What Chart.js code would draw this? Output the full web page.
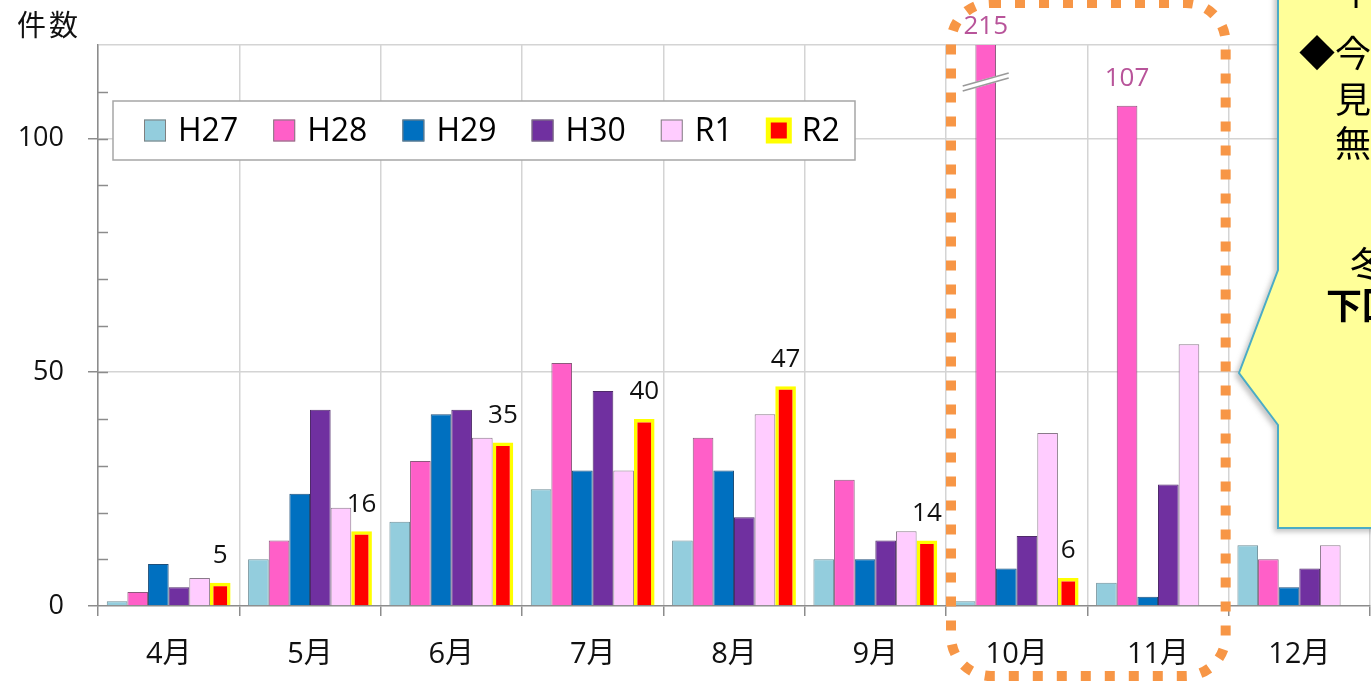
<!DOCTYPE html>
<html lang="ja">
<head>
<meta charset="utf-8">
<title>件数</title>
<script src="https://cdn.jsdelivr.net/npm/chart.js@4"></script>
<style>
  html, body { margin: 0; padding: 0; background: #fff; }
  #wrap { position: relative; width: 1371px; height: 685px; overflow: hidden; }
  #chart { position: absolute; left: 0; top: 0; }
  #callout { position: absolute; left: 0; top: 0; }
  .note { position: absolute; font-family: "Noto Sans CJK JP"; font-size: 36px; line-height: 36px; color: #000; white-space: nowrap; }
</style>
</head>
<body>
<div id="wrap">
  <canvas id="chart" width="1371" height="685"></canvas>
  <svg id="callout" width="1371" height="685">
    <defs>
      <filter id="shadow" x="-20%" y="-20%" width="140%" height="140%">
        <feDropShadow dx="-3" dy="3" stdDeviation="2.5" flood-color="#808080" flood-opacity="0.45"/>
      </filter>
    </defs>
    <path d="M1278,-10 L1390,-10 L1390,528 L1278,528 L1278,425 L1239,373 L1278,270 Z"
          fill="#FFFF99" stroke="#4BACC6" stroke-width="2" filter="url(#shadow)"/>
  </svg>
  <div class="note" style="left:1338px; top:-29px">十</div>
  <div class="note" style="left:1299px; top:33px">◆今</div>
  <div class="note" style="left:1335px; top:79px">見</div>
  <div class="note" style="left:1335px; top:123px">無</div>
  <div class="note" style="left:1350px; top:244px">冬</div>
  <div class="note" style="left:1326px; top:285px; font-weight:bold">下回</div>
</div>
<script>
const months = ['4月', '5月', '6月', '7月', '8月', '9月', '10月', '11月', '12月'];
const h27 = [1, 10, 18, 25, 14, 10, 1, 5, 13];
const h28 = [3, 14, 31, 52, 36, 27, 215, 107, 10];
const h29 = [9, 24, 41, 29, 29, 10, 8, 2, 4];
const h30 = [4, 42, 42, 46, 19, 14, 15, 26, 8];
const r1 = [6, 21, 36, 29, 41, 16, 37, 56, 13];
const r2 = [5, 16, 35, 40, 47, 14, 6, null, null];
const yMax = 120;

const FONT = '"Open Sans", "Noto Sans CJK JP", sans-serif';
const TEXT = '#111';
const AXIS = '#8c8c8c';
const GRID = '#d4d4d4';
const TRANSPARENT = 'rgba(0,0,0,0)';

function bar(label, data, fill, border, width) {
  return {
    label: label,
    data: data,
    backgroundColor: fill,
    borderColor: border,
    borderWidth: width,
    borderSkipped: 'start',
    categoryPercentage: 0.876,
    barPercentage: 1.0,
    clip: 0
  };
}

// legend box inside the plot, like the original
const legendBox = {
  id: 'legendBox',
  afterDatasetsDraw(chart) {
    const ctx = chart.ctx;
    const ca = chart.chartArea;
    const bx = ca.left + 15, by = ca.top + 56, bw = 742, bh = 59;
    ctx.save();
    ctx.fillStyle = '#fff';
    ctx.fillRect(bx, by, bw, bh);
    ctx.strokeStyle = '#a6a6a6';
    ctx.lineWidth = 1.5;
    ctx.strokeRect(bx, by, bw, bh);
    ctx.font = '32px ' + FONT;
    ctx.textBaseline = 'middle';
    let x = bx + 31;
    const cy = by + bh / 2;
    chart.data.datasets.forEach((ds) => {
      const s = 22;
      if (ds.borderWidth > 2) {
        ctx.fillStyle = ds.borderColor;
        ctx.fillRect(x - 2, cy - s / 2 - 2, s + 4, s + 4);
        ctx.fillStyle = ds.backgroundColor;
        ctx.fillRect(x + 3, cy - s / 2 + 3, s - 6, s - 6);
      } else {
        ctx.fillStyle = ds.backgroundColor;
        ctx.fillRect(x, cy - s / 2, s, s);
        ctx.strokeStyle = '#7f7f7f';
        ctx.lineWidth = 1;
        ctx.strokeRect(x + 0.5, cy - s / 2 + 0.5, s - 1, s - 1);
      }
      ctx.fillStyle = '#000';
      ctx.fillText(ds.label, x + 34, cy + 1);
      x += 34 + ctx.measureText(ds.label).width + 35;
    });
    ctx.restore();
  }
};

// value labels, minor ticks, break mark, y title, dotted frame
const extras = {
  id: 'extras',
  afterDatasetsDraw(chart) {
    const ctx = chart.ctx;
    const ca = chart.chartArea;
    const y = chart.scales.y;
    const xs = chart.scales.x;
    ctx.save();

    // inner minor ticks on the y axis
    ctx.strokeStyle = AXIS;
    ctx.lineWidth = 1.5;
    y.ticks.forEach((t) => {
      if (t.value === 0 || t.value === yMax) return;
      const py = Math.round(y.getPixelForValue(t.value)) + 0.5;
      ctx.beginPath();
      ctx.moveTo(ca.left, py);
      ctx.lineTo(ca.left + 10, py);
      ctx.stroke();
    });

    // break mark on bars taller than the axis
    const m28 = chart.getDatasetMeta(1);
    h28.forEach((v, i) => {
      if (v <= yMax) return;
      const b = m28.data[i];
      const cy = ca.top + 37;
      const dx = 23, dy = 6.5;
      ctx.strokeStyle = '#fff';
      ctx.lineWidth = 6;
      ctx.beginPath();
      ctx.moveTo(b.x - dx, cy + dy);
      ctx.lineTo(b.x + dx, cy - dy);
      ctx.stroke();
      ctx.strokeStyle = '#9a9a9a';
      ctx.lineWidth = 1.6;
      [-2.6, 2.6].forEach((o) => {
        ctx.beginPath();
        ctx.moveTo(b.x - dx, cy + dy + o);
        ctx.lineTo(b.x + dx, cy - dy + o);
        ctx.stroke();
      });
    });

    // value labels
    ctx.font = '26px ' + FONT;
    ctx.textAlign = 'center';
    ctx.textBaseline = 'middle';
    const m2 = chart.getDatasetMeta(5);
    r2.forEach((v, i) => {
      if (v === null) return;
      const b = m2.data[i];
      ctx.fillStyle = TEXT;
      ctx.fillText(String(v), b.x, b.y - 27);
    });
    h28.forEach((v, i) => {
      if (v < 100) return;
      const b = m28.data[i];
      ctx.fillStyle = '#B8549A';
      const top = v > yMax ? ca.top - 18 : b.y - 27;
      ctx.fillText(String(v), b.x, top);
    });

    // y axis title
    ctx.textAlign = 'left';
    ctx.fillStyle = TEXT;
    ctx.font = '29px "Noto Sans CJK JP", sans-serif';
    ctx.fillText('件', 17, 25);
    ctx.fillText('数', 49, 25);

    // dotted frame around 10月-11月
    const edge = (i) => (xs.getPixelForValue(i - 1) + xs.getPixelForValue(i)) / 2;
    const l = edge(6) + 5, r = edge(8) - 3, t = 3, bt = 676, rad = 40;
    ctx.strokeStyle = '#F79646';
    ctx.lineWidth = 10;
    ctx.setLineDash([10, 14]);
    ctx.beginPath();
    ctx.moveTo(l + rad, t);
    ctx.lineTo(r - rad, t);
    ctx.arcTo(r, t, r, t + rad, rad);
    ctx.lineTo(r, bt - rad);
    ctx.arcTo(r, bt, r - rad, bt, rad);
    ctx.lineTo(l + rad, bt);
    ctx.arcTo(l, bt, l, bt - rad, rad);
    ctx.lineTo(l, t + rad);
    ctx.arcTo(l, t, l + rad, t, rad);
    ctx.closePath();
    ctx.stroke();
    ctx.restore();
  }
};

const chart = new Chart(document.getElementById('chart'), {
  type: 'bar',
  data: {
    labels: months,
    datasets: [
      bar('H27', h27, '#93CDDD', '#6f8f99', 1),
      bar('H28', h28, '#FF5FC8', '#8c5a7c', 1),
      bar('H29', h29, '#0070C0', '#1f4f7a', 1),
      bar('H30', h30, '#7030A0', '#4f2a6a', 1),
      bar('R1', r1, '#FFCCFF', '#8a7a8a', 1),
      bar('R2', r2, '#FF0000', '#FFFF00', 3.5)
    ]
  },
  options: {
    responsive: false,
    animation: false,
    layout: { padding: { top: 45, right: 1, left: 0, bottom: 0 } },
    plugins: {
      legend: { display: false },
      tooltip: { enabled: false }
    },
    scales: {
      x: {
        offset: true,
        grid: { offset: true, color: GRID, lineWidth: 1.5, tickLength: 10, tickColor: AXIS },
        border: { color: AXIS, width: 1.5 },
        ticks: { font: { family: FONT, size: 29 }, color: TEXT, padding: 21, maxRotation: 0 },
        afterFit(s) { s.height = 79; s.paddingLeft = 0; s.paddingRight = 0; }
      },
      y: {
        min: 0,
        max: yMax,
        ticks: {
          stepSize: 10,
          padding: 24,
          font: { family: FONT, size: 27 },
          color: TEXT,
          callback: (v) => (v % 50 === 0 ? v : '')
        },
        grid: {
          lineWidth: 1.5,
          tickLength: 10,
          color: (c) => ([50, 100, yMax].includes(c.tick.value) ? GRID : TRANSPARENT),
          tickColor: (c) => (c.tick.value % 50 === 0 && c.tick.value !== yMax ? AXIS : TRANSPARENT)
        },
        border: { color: AXIS, width: 1.5 },
        afterFit(s) { s.width = 98; s.paddingTop = 0; s.paddingBottom = 0; }
      }
    }
  },
  plugins: [legendBox, extras]
});
</script>
</body>
</html>
